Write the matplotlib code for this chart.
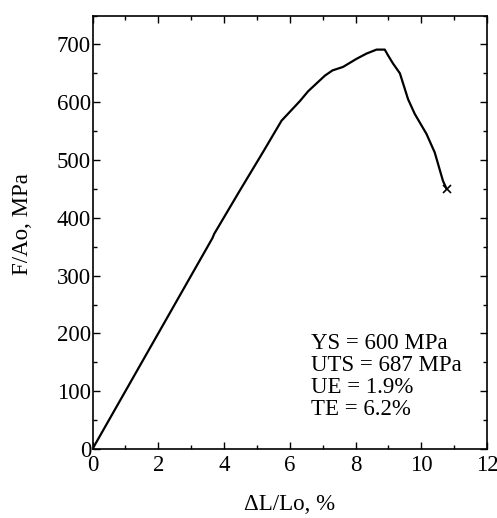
import matplotlib
matplotlib.use("Agg")
import matplotlib.pyplot as plt
from matplotlib.ticker import MultipleLocator

strain = [0.0, 1.0, 2.0, 3.0, 3.65, 3.7, 4.48, 5.2, 5.75, 6.31, 6.56, 7.07, 7.3, 7.62, 8.03, 8.33, 8.64, 8.89, 8.99, 9.14, 9.35, 9.6, 9.8, 10.16, 10.41, 10.66, 10.77]
stress = [0.0, 100, 200, 300, 365, 372, 447, 515, 568, 602, 619, 646, 655, 661, 675, 684, 691, 691, 681, 667, 650, 605, 580, 545, 513, 464, 450]
fracture = (10.77, 450)
props = ["YS = 600 MPa", "UTS = 687 MPa", "UE = 1.9%", "TE = 6.2%"]

plt.rcParams['font.family'] = ['Liberation Serif', 'DejaVu Serif']
fs = 16.5
fig = plt.figure(figsize=(4.97, 5.18), dpi=100)
ax = fig.add_axes([92.5/497, 1-449/518, (487-92.5)/497, (449-15.5)/518])
ax.plot(strain, stress, color='black', lw=1.6)
ax.plot([fracture[0]], [fracture[1]], marker='x', color='black', ms=6, mew=1.2)
ax.set_xlim(0, 12)
ax.set_ylim(0, 750)
ax.xaxis.set_major_locator(MultipleLocator(2))
ax.xaxis.set_minor_locator(MultipleLocator(1))
ax.yaxis.set_major_locator(MultipleLocator(100))
ax.yaxis.set_minor_locator(MultipleLocator(50))
ax.tick_params(which='both', direction='in', top=True, right=True, labelsize=fs, width=1.0)
ax.tick_params(which='major', length=5)
ax.tick_params(which='minor', length=3)
ax.tick_params(axis='x', pad=4)
ax.tick_params(axis='y', pad=1)
ax.set_yticks(range(0, 800, 100))
for s in ax.spines.values():
    s.set_linewidth(1.2)
ax.set_xlabel("ΔL/Lo, %", fontsize=fs)
ax.xaxis.set_label_coords(0.5, -0.103)
ax.set_ylabel("F/Ao, MPa", fontsize=fs)
ax.yaxis.set_label_coords(-0.152, 0.519)
ax.text(6.64, 200, "\n".join(props), fontsize=fs, va='top', ha='left', linespacing=1.06)
fig.savefig("out.png", dpi=100)
